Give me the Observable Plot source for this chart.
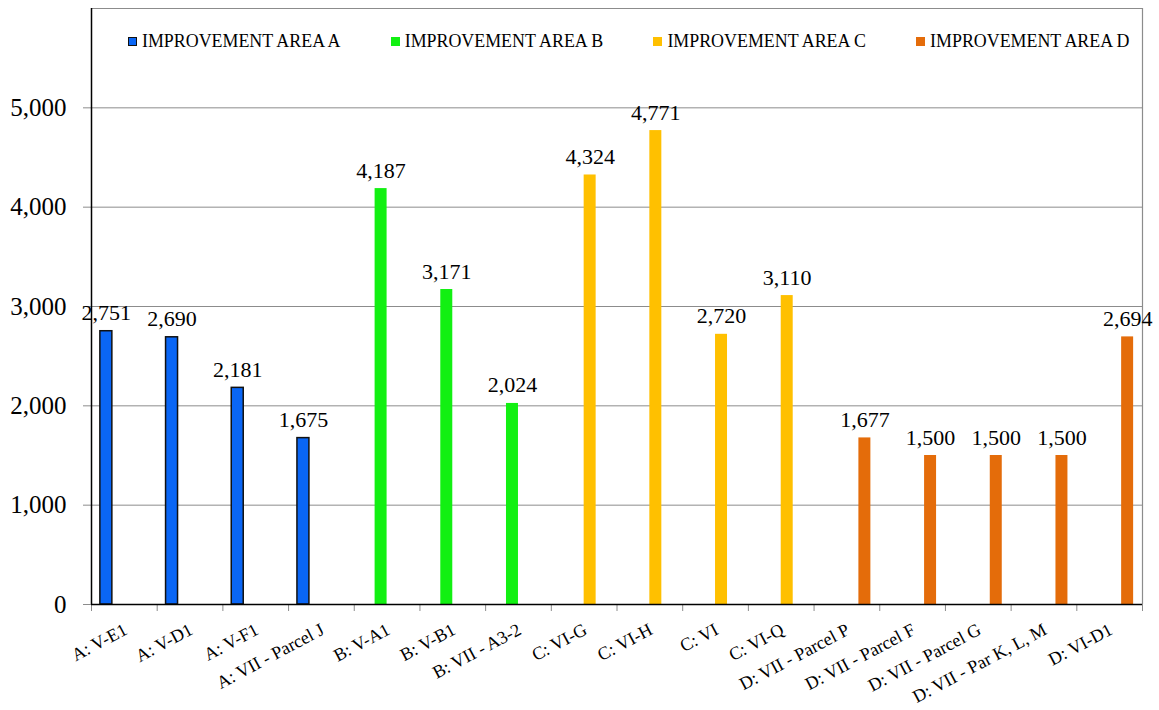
<!DOCTYPE html>
<html>
<head>
<meta charset="utf-8">
<script src="https://cdn.jsdelivr.net/npm/d3@7"></script>
<script src="https://cdn.jsdelivr.net/npm/@observablehq/plot@0.6"></script>
<style>
  body { margin: 0; background: #fff; }
  #chart { position: relative; width: 1159px; height: 710px; font-family: "Liberation Serif", "Times New Roman", serif; }
  #chart svg, #chart svg text { font-family: "Liberation Serif", "Times New Roman", serif !important; }
  #legend { position: absolute; left: 128px; top: 31px; display: flex; }
  #legend .item { width: 262.7px; display: flex; align-items: center; font-size: 17.9px; color: #000; white-space: nowrap; }
  #legend .sw { width: 9px; height: 9px; margin-right: 5px; box-sizing: border-box; }
</style>
</head>
<body>
<div id="chart"><div id="legend"></div></div>
<script>
// Sites, in the order they appear along the axis
const sites = [
  "A: V-E1", "A: V-D1", "A: V-F1", "A: VII - Parcel J",
  "B: V-A1", "B: V-B1", "B: VII - A3-2",
  "C: VI-G", "C: VI-H", "C: VI", "C: VI-Q",
  "D: VII - Parcel P", "D: VII - Parcel F", "D: VII - Parcel G", "D: VII - Par K, L, M", "D: VI-D1"
];
// Improvement area each site belongs to
const areas = ["A", "A", "A", "A", "B", "B", "B", "C", "C", "C", "C", "D", "D", "D", "D", "D"];
// Value per site
const values = [2751, 2690, 2181, 1675, 4187, 3171, 2024, 4324, 4771, 2720, 3110, 1677, 1500, 1500, 1500, 2694];

const areaKeys = ["A", "B", "C", "D"];
const areaNames = ["IMPROVEMENT AREA A", "IMPROVEMENT AREA B", "IMPROVEMENT AREA C", "IMPROVEMENT AREA D"];
const areaColors = ["#0a66f5", "#12f012", "#ffc000", "#e46c0a"];
const yTicks = [0, 1000, 2000, 3000, 4000, 5000];
const yMax = 6000;

const rows = sites.map((site, i) => ({site, area: areas[i], value: values[i], i}));

// Each site occupies one unit on x; the four areas share it as clustered slots
const slot = d3.scaleBand(areaKeys, [0, 1]).paddingInner(0).paddingOuter(0.74);
const left = d => d.i + slot(d.area);
const right = d => d.i + slot(d.area) + slot.bandwidth();
const mid = d => d.i + slot(d.area) + slot.bandwidth() / 2;

const fmt = d3.format(",");
const font = "Liberation Serif";

const chart = Plot.plot({
  width: 1159,
  height: 710,
  marginLeft: 91,
  marginRight: 17,
  marginTop: 8,
  marginBottom: 106,
  style: {fontFamily: font, background: "#fff", overflow: "visible"},
  x: {type: "linear", domain: [0, sites.length], axis: null},
  y: {domain: [0, yMax], axis: null},
  color: {domain: areaKeys, range: areaColors},
  marks: [
    // horizontal gridlines and the gray top/right border of the plot area
    Plot.ruleY(yTicks.slice(1), {stroke: "#8c8c8c", strokeWidth: 1}),
    Plot.ruleY([yMax], {stroke: "#8c8c8c", strokeWidth: 1.2}),
    Plot.ruleX([sites.length], {stroke: "#8c8c8c", strokeWidth: 1.2}),
    // y axis
    Plot.axisY({
      ticks: yTicks, tickFormat: fmt, tickSize: 8, tickPadding: 17, label: null,
      stroke: "#8c8c8c", fill: "#000", fontSize: 25
    }),
    // category boundary ticks
    Plot.axisX({
      ticks: d3.range(sites.length + 1), tickSize: 7, tickFormat: () => "", label: null,
      stroke: "#8c8c8c"
    }),
    // bars
    Plot.rectY(rows, {
      x1: left, x2: right, y: "value", fill: "area",
      stroke: d => d.area === "A" ? "#111" : "none", strokeWidth: 1.5
    }),
    // value labels above each bar
    Plot.text(rows, {
      x: mid, y: "value", text: d => fmt(d.value),
      lineAnchor: "bottom", dy: -11, fontSize: 22, fill: "#000"
    }),
    // axis lines
    Plot.ruleX([0], {stroke: "#000", strokeWidth: 1.5}),
    Plot.ruleY([0], {stroke: "#000", strokeWidth: 1.5}),
    // rotated site names
    Plot.text(rows, {
      x: d => d.i + 0.5, frameAnchor: "bottom", text: "site",
      rotate: -28, textAnchor: "end", lineAnchor: "bottom",
      dx: 4, dy: 29, fontSize: 18, fill: "#000"
    })
  ]
});

document.getElementById("chart").appendChild(chart);

// legend inside the top of the plot area
const legend = d3.select("#legend");
areaKeys.forEach((k, i) => {
  const item = legend.append("div").attr("class", "item");
  item.append("div").attr("class", "sw")
    .style("background", areaColors[i])
    .style("border", k === "A" ? "1.5px solid #111" : "none");
  item.append("span").text(areaNames[i]);
});
</script>
</body>
</html>
